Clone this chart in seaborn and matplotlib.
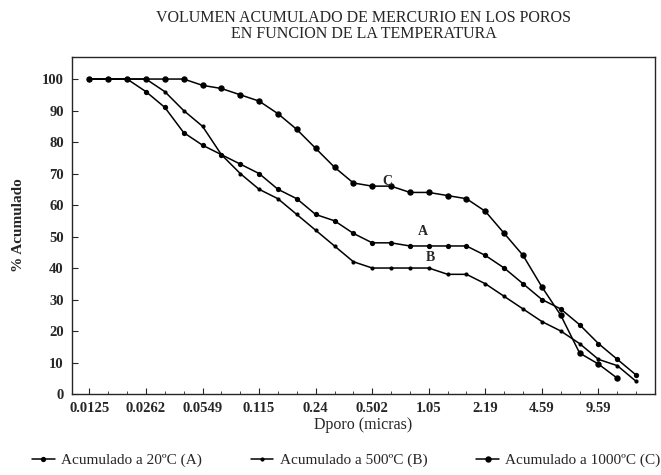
import matplotlib
matplotlib.use("Agg")
import matplotlib.pyplot as plt
import numpy as np
import pandas as pd
import seaborn as sns

# datos (30 diametros, etiqueta cada 3 puntos)
tick_labels = ['0.0125', '0.0262', '0.0549', '0.115', '0.24', '0.502', '1.05', '2.19', '4.59', '9.59']
n_puntos = 30

acum_20 = [100, 100, 100, 96, 91, 83, 79, 76, 73, 70, 65, 62, 57, 55, 51,
           48, 48, 47, 47, 47, 47, 44, 40, 35, 30, 27, 22, 16, 11, 6]
acum_500 = [100, 100, 100, 100, 96, 90, 85, 76, 70, 65, 62, 57, 52, 47, 42,
            40, 40, 40, 40, 38, 38, 35, 31, 27, 23, 20, 16, 11, 9, 4]
acum_1000 = [100, 100, 100, 100, 100, 100, 98, 97, 95, 93, 89, 84, 78, 72, 67,
             66, 66, 64, 64, 63, 62, 58, 51, 44, 34, 25, 13, 9.5, 5, np.nan]

sns.set_style("ticks")
plt.rcParams['font.family'] = ['Liberation Serif', 'DejaVu Serif']

df = pd.DataFrame({'idx': np.arange(n_puntos),
                   'A': acum_20, 'B': acum_500, 'C': acum_1000})

fig = plt.figure(figsize=(6.61, 4.75), dpi=100)
ax = fig.add_axes([0.109, 0.1705, 0.882, 0.7095])

sns.lineplot(x='idx', y='A', data=df, color='black', marker='o', markersize=3.8,
             markeredgewidth=0, linewidth=1.1, label='Acumulado a 20ºC (A)', ax=ax)
sns.lineplot(x='idx', y='B', data=df, color='black', marker='o', markersize=3.0,
             markeredgewidth=0, linewidth=1.1, label='Acumulado a 500ºC (B)', ax=ax)
sns.lineplot(x='idx', y='C', data=df.dropna(), color='black', marker='o', markersize=4.6,
             markeredgewidth=0, linewidth=1.1, label='Acumulado a 1000ºC (C)', ax=ax)

# etiquetas de las curvas
ax.text(15.8, 67.5, 'C', fontsize=10, fontweight='bold', ha='center', va='center')
ax.text(17.7, 51.5, 'A', fontsize=10, fontweight='bold', ha='center', va='center')
ax.text(18.1, 43.5, 'B', fontsize=10, fontweight='bold', ha='center', va='center')

ax.set_xlim(-0.92, 30)
ax.set_ylim(0, 107)
ax.set_xticks(np.arange(0, 30, 3))
ax.set_xticklabels(tick_labels, fontsize=10.5, fontweight='bold')
ax.set_xticks(np.arange(0, 30), minor=True)
ax.set_yticks(np.arange(0, 101, 10))
ax.set_yticklabels([str(v) for v in range(0, 101, 10)], fontsize=10.5, fontweight='bold')
ax.tick_params(axis='both', which='major', direction='in', length=4, width=0.8, pad=6)
ax.tick_params(axis='x', which='minor', direction='in', length=2.5, width=0.6)
for s in ax.spines.values():
    s.set_linewidth(1.0)
    s.set_visible(True)

ax.set_xlabel('Dporo (micras)', fontsize=11.5, labelpad=1)
ax.set_ylabel('% Acumulado', fontsize=11, fontweight='bold', labelpad=12)
ax.set_title('VOLUMEN ACUMULADO DE MERCURIO EN LOS POROS\nEN FUNCION DE LA TEMPERATURA',
             fontsize=11.5, linespacing=0.95, pad=14)

ax.legend(loc='upper center', bbox_to_anchor=(0.47, -0.135), ncol=3, frameon=False,
          fontsize=11, handlelength=1.5, columnspacing=3.2, handletextpad=0.4)

plt.savefig('out.png', dpi=100)
